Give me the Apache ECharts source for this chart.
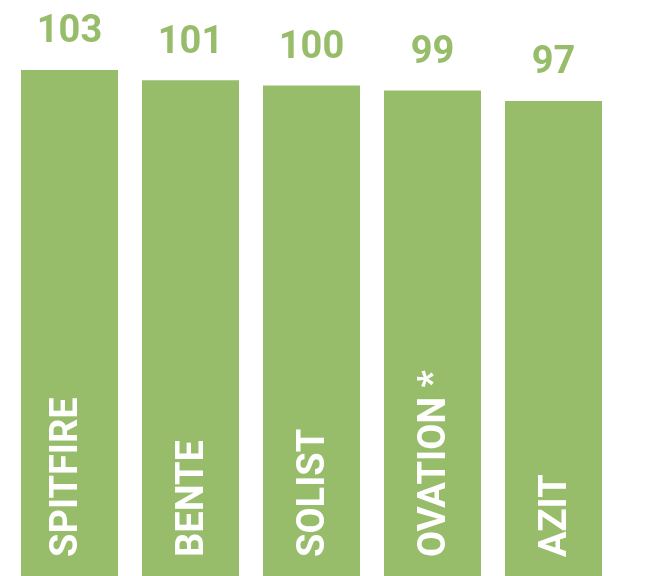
<!DOCTYPE html>
<html>
<head>
<meta charset="utf-8">
<script src="https://cdn.jsdelivr.net/npm/echarts@6/dist/echarts.min.js"></script>
<style>
	html, body { margin: 0; padding: 0; background: #fff; }
	#chart { width: 654px; height: 576px; }
</style>
</head>
<body>
<div id="chart"></div>
<script>
var categories = ['SPITFIRE', 'BENTE', 'SOLIST', 'OVATION *', 'AZIT'];
var values = [103, 101, 100, 99, 97];

var barColor = '#97bd6b';
var chart = echarts.init(document.getElementById('chart'));

// the first name sits a little left of its bar in the original
var nameData = values.map(function (v, i) {
	var item = { value: v };
	if (i === 0) {
		item.label = { offset: [-3, -2] };
	}
	return item;
});

chart.setOption({
	animation: false,
	grid: {
		left: 9,
		right: 40,
		top: 8,
		bottom: 0
	},
	xAxis: {
		type: 'category',
		data: categories,
		axisLine: { show: false },
		axisTick: { show: false },
		axisLabel: { show: false }
	},
	yAxis: {
		type: 'value',
		min: 5,
		max: 115,
		show: false
	},
	series: [
		{
			// the bars with their value on top
			type: 'bar',
			data: values,
			barWidth: 97,
			itemStyle: { color: barColor },
			label: {
				show: true,
				position: 'top',
				distance: 18,
				color: barColor,
				fontFamily: 'Roboto',
				fontWeight: 'bold',
				fontSize: 38
			}
		},
		{
			// name written up the bar, from the bottom
			type: 'bar',
			data: nameData,
			barWidth: 97,
			barGap: '-100%',
			itemStyle: { color: 'rgba(0,0,0,0)' },
			label: {
				show: true,
				position: 'insideBottom',
				distance: 22,
				rotate: 90,
				align: 'left',
				verticalAlign: 'middle',
				offset: [-3, 3],
				formatter: '{b}',
				color: '#fff',
				fontFamily: 'Roboto',
				fontWeight: 'bold',
				fontSize: 38
			}
		}
	]
});
</script>
</body>
</html>
